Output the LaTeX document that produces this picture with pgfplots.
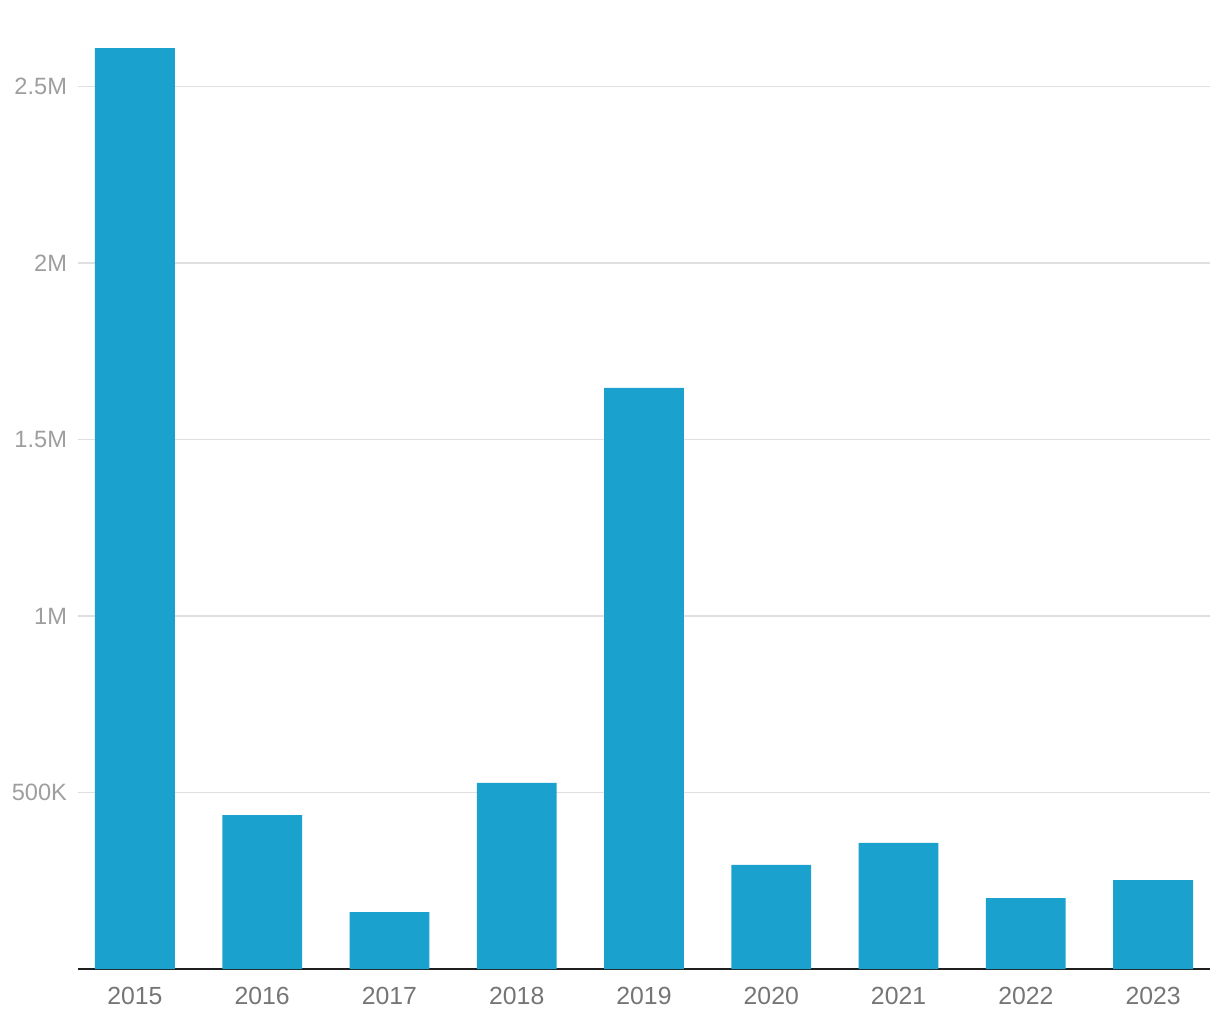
\documentclass[border=0pt]{standalone}
\usepackage{pgfplots}
\pgfplotsset{compat=1.18}
\usepackage{fontspec}
\setmainfont{Liberation Sans}
\definecolor{barc}{HTML}{1AA1CE}
\definecolor{ylab}{HTML}{9E9E9E}
\definecolor{xlab}{HTML}{757575}
\definecolor{gridc}{HTML}{E0E0E0}
\begin{document}
\begin{tikzpicture}
\begin{axis}[
  name=ax,
  scale only axis,
  width=566pt, height=484.5pt,
  xmin=-0.447, xmax=8.447,
  ymin=0, ymax=2745000,
  axis lines*=left,
  y axis line style={draw=none},
  x axis line style={draw=black!88, line width=1pt},
  major tick length=0pt,
  xtick={0,1,2,3,4,5,6,7,8},
  xticklabels={2015,2016,2017,2018,2019,2020,2021,2022,2023},
  ytick={500000,1000000,1500000,2000000,2500000},
  yticklabels={500K,1M,1.5M,2M,2.5M},
  scaled ticks=false,
  /pgf/number format/assume math mode=true,
  x tick label style={font=\fontsize{12.4pt}{14pt}\selectfont, text=xlab, yshift=-5.5pt},
  y tick label style={font=\fontsize{11.8pt}{13pt}\selectfont, text=ylab, xshift=-2pt},
  ymajorgrids,
  grid style={gridc, line width=0.6pt},
  clip=false,
]
\addplot[ybar, bar width=0.627, fill=barc, draw=none] coordinates {
  (0,2609000) (1,436000) (2,161000) (3,527000) (4,1646000)
  (5,295000) (6,357000) (7,201000) (8,252000)
};
\end{axis}
\pgfresetboundingbox
\path[use as bounding box] ([xshift=-39pt,yshift=-25.5pt]ax.south west) rectangle ([xshift=5pt]ax.north east);
\end{tikzpicture}
\end{document}
